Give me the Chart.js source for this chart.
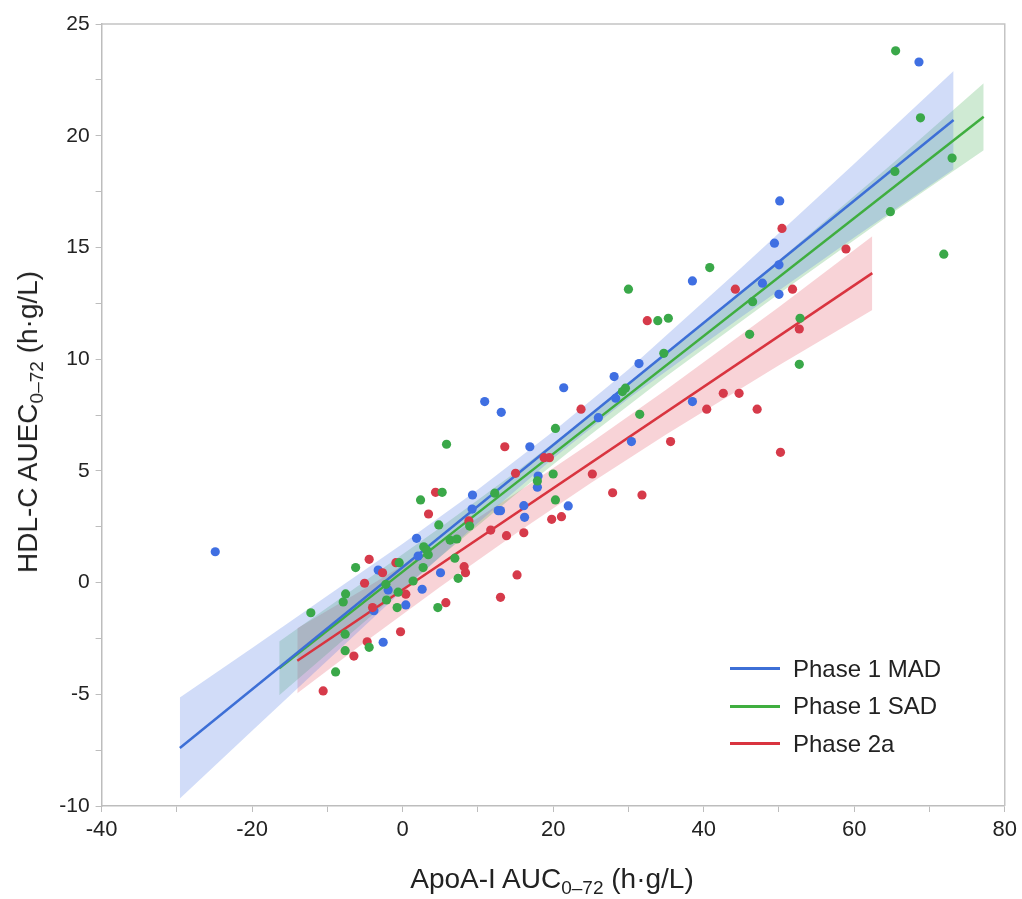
<!DOCTYPE html>
<html>
<head>
<meta charset="utf-8">
<script src="https://cdn.jsdelivr.net/npm/chart.js@4.4.1/dist/chart.umd.min.js"></script>
<style>
  body { margin: 0; background: #fff; font-family: "Liberation Sans", Arial, sans-serif; }
  #wrap { position: relative; width: 1022px; height: 899px; }
  .ttl { position: absolute; font-size: 28px; color: #222; white-space: nowrap; }
  .ttl sub { font-size: 19px; vertical-align: -6px; }
  #ytitle { left: 30px; top: 422px; transform: translate(-50%, -50%) rotate(-90deg); }
  #xtitle { left: 552px; top: 881px; transform: translate(-50%, -50%); }
  #legend { position: absolute; left: 730px; top: 650px; font-size: 24px; color: #222; }
  #legend div { height: 37.5px; display: flex; align-items: center; }
  #legend span.sw { display: inline-block; width: 50px; height: 3px; margin-right: 13px; }
</style>
</head>
<body>
<div id="wrap">
  <canvas id="scatterChart"></canvas>
  <div class="ttl" id="ytitle">HDL-C AUEC<sub>0–72</sub> (h·g/L)</div>
  <div class="ttl" id="xtitle">ApoA-I AUC<sub>0–72</sub> (h·g/L)</div>
  <div id="legend">
    <div><span class="sw" style="background:#3d6fd6"></span>Phase 1 MAD</div>
    <div><span class="sw" style="background:#3fae3f"></span>Phase 1 SAD</div>
    <div><span class="sw" style="background:#d9343f"></span>Phase 2a</div>
  </div>
</div>
<script>
// points (x = ApoA-I AUC, y = HDL-C AUEC)
const mad_x = [-24.9, -3.25, -3.82, -1.93, 0.42, 2.59, 2.06, 5.03, -2.59, 1.85, 9.28, 9.23, 12.7, 13.0, 16.1, 16.2, 16.9, 21.4, 10.9, 13.1, 26.0, 28.3, 18.0, 17.9, 22.0, 30.4, 28.1, 31.4, 38.5, 38.5, 47.8, 49.4, 50.0, 50.0, 50.1, 68.6];
const mad_y = [1.38, 0.56, -1.26, -0.33, -1.0, -0.3, 1.19, 0.44, -2.67, 1.98, 3.92, 3.29, 3.22, 3.22, 3.44, 2.92, 6.08, 8.72, 8.10, 7.62, 7.38, 8.25, 4.77, 4.27, 3.43, 6.31, 9.22, 9.8, 13.5, 8.1, 13.4, 15.19, 14.22, 12.9, 17.08, 23.3];

const sad_x = [-12.2, -6.25, -7.58, -7.9, -2.23, -2.14, -0.73, -0.6, -0.46, 1.39, 2.72, 2.8, 3.2, 3.4, 6.93, 4.67, 7.37, -4.45, -7.64, -7.64, -8.91, 5.83, 5.25, 2.38, 12.24, 8.9, 4.8, 6.3, 7.2, 20.3, 20.0, 17.9, 20.3, 29.2, 29.6, 30.0, 33.9, 35.3, 34.7, 31.5, 40.8, 46.5, 46.1, 52.8, 52.7, 65.5, 68.8, 65.4, 73.0, 64.8, 71.9];
const sad_y = [-1.35, 0.67, -0.51, -0.87, -0.08, -0.78, -1.12, -0.43, 0.89, 0.07, 0.67, 1.6, 1.45, 1.25, 1.09, -1.12, 0.19, -2.9, -2.31, -3.05, -4.0, 6.19, 4.04, 3.70, 4.0, 2.53, 2.58, 1.9, 1.95, 6.9, 4.86, 4.55, 3.70, 8.55, 8.7, 13.13, 11.72, 11.83, 10.26, 7.53, 14.1, 12.57, 11.11, 11.83, 9.77, 23.8, 20.8, 18.4, 19.0, 16.6, 14.7];

const p2a_x = [-4.45, -2.67, -5.06, -4.0, 0.42, -0.9, 5.74, -0.28, -4.71, -6.48, -10.56, 13.57, 15.0, 4.37, 3.44, 8.8, 11.7, 13.8, 16.1, 8.17, 8.35, 15.2, 13.0, 23.7, 18.8, 19.5, 25.2, 27.9, 19.8, 21.1, 31.8, 50.4, 51.8, 58.9, 44.2, 32.5, 52.7, 42.6, 44.7, 40.4, 47.1, 35.6, 50.2];
const p2a_y = [1.04, 0.44, -0.03, -1.12, -0.52, 0.89, -0.9, -2.2, -2.65, -3.29, -4.85, 6.08, 4.89, 4.04, 3.07, 2.76, 2.35, 2.1, 2.23, 0.71, 0.44, 0.34, -0.66, 7.76, 5.59, 5.59, 4.86, 4.02, 2.83, 2.95, 3.92, 15.85, 13.13, 14.93, 13.13, 11.72, 11.35, 8.47, 8.47, 7.76, 7.76, 6.31, 5.83];

// fitted lines (end points)
const mad_fit_x = [-29.6, 73.2];
const mad_fit_y = [-7.4, 20.7];
const sad_fit_x = [-16.4, 77.2];
const sad_fit_y = [-3.84, 20.85];
const p2a_fit_x = [-14.0, 62.4];
const p2a_fit_y = [-3.5, 13.85];

// confidence bands
const mad_band_x = [-29.6, -20, -10, 0, 10, 20, 30, 45, 60, 73.2];
const mad_band_hi = [-5.14, -2.93, -0.59, 1.74, 4.17, 6.76, 9.54, 14.09, 18.74, 22.9];
const mad_band_lo = [-9.66, -6.63, -3.49, -0.36, 2.67, 5.56, 8.24, 11.89, 15.44, 18.5];
const sad_band_x = [-16.4, -5, 5, 15, 25, 35, 50, 65, 77.2];
const sad_band_hi = [-2.64, 0.07, 2.46, 4.94, 7.53, 10.22, 14.43, 18.73, 22.35];
const sad_band_lo = [-5.04, -1.73, 1.16, 3.94, 6.63, 9.22, 12.93, 16.53, 19.35];
const p2a_band_x = [-14, -5, 5, 15, 25, 35, 50, 62.4];
const p2a_band_hi = [-2.05, -0.26, 1.81, 3.99, 6.26, 8.63, 12.33, 15.5];
const p2a_band_lo = [-4.95, -2.66, -0.19, 2.19, 4.46, 6.63, 9.73, 12.2];

function pts(xs, ys) {
    return xs.map((x, i) => ({ x: x, y: ys[i] }));
}

function band(xs, hi, lo, color) {
    // upper edge fills down to the next dataset (lower edge)
    return [
        { type: 'line', data: pts(xs, hi), borderWidth: 0, pointRadius: 0, fill: '+1', backgroundColor: color, order: 3 },
        { type: 'line', data: pts(xs, lo), borderWidth: 0, pointRadius: 0, fill: false, order: 3 }
    ];
}

function fit(xs, ys, color) {
    return { type: 'line', data: pts(xs, ys), borderColor: color, borderWidth: 2.5, pointRadius: 0, fill: false, order: 2 };
}

function dots(xs, ys, color) {
    return { type: 'scatter', data: pts(xs, ys), backgroundColor: color, borderWidth: 0, pointRadius: 4.6, order: 1 };
}

// light frame on top and right of the plot
const framePlugin = {
    id: 'frame',
    beforeDatasetsDraw(chart) {
        const a = chart.chartArea;
        const ctx = chart.ctx;
        ctx.save();
        ctx.strokeStyle = '#c4c4c4';
        ctx.lineWidth = 1.5;
        ctx.beginPath();
        ctx.moveTo(a.left, a.top);
        ctx.lineTo(a.right, a.top);
        ctx.lineTo(a.right, a.bottom);
        ctx.stroke();
        ctx.restore();
    }
};

const ctx = document.getElementById('scatterChart').getContext('2d');
const myChart = new Chart(ctx, {
    type: 'scatter',
    data: {
        datasets: [
            ...band(mad_band_x, mad_band_hi, mad_band_lo, 'rgba(90,130,230,0.28)'),
            ...band(sad_band_x, sad_band_hi, sad_band_lo, 'rgba(70,175,85,0.26)'),
            ...band(p2a_band_x, p2a_band_hi, p2a_band_lo, 'rgba(228,80,95,0.25)'),
            fit(mad_fit_x, mad_fit_y, '#3d6fd6'),
            fit(sad_fit_x, sad_fit_y, '#3fae3f'),
            fit(p2a_fit_x, p2a_fit_y, '#d9343f'),
            dots(sad_x, sad_y, '#3aa849'),
            dots(p2a_x, p2a_y, '#d63a4a'),
            dots(mad_x, mad_y, '#3f6fe2')
        ]
    },
    options: {
        responsive: true,
        maintainAspectRatio: false,
        animation: false,
        layout: { padding: { top: 24, right: 17, left: 0, bottom: 0 } },
        plugins: {
            legend: { display: false },
            tooltip: { enabled: false }
        },
        scales: {
            x: {
                type: 'linear',
                min: -40,
                max: 80,
                afterFit: (s) => { s.height = 93; },
                border: { color: '#bdbdbd', width: 1.5 },
                grid: { drawOnChartArea: false, drawTicks: true, tickLength: 6, color: '#bdbdbd' },
                ticks: {
                    stepSize: 10,
                    padding: 5,
                    color: '#222',
                    font: { family: 'Liberation Sans', size: 22 },
                    maxRotation: 0,
                    callback: (v) => (v % 20 === 0 ? v : '')
                }
            },
            y: {
                type: 'linear',
                min: -10,
                max: 25,
                afterFit: (s) => { s.width = 101.6; },
                border: { color: '#bdbdbd', width: 1.5 },
                grid: { drawOnChartArea: false, drawTicks: true, tickLength: 6, color: '#bdbdbd' },
                ticks: {
                    stepSize: 2.5,
                    padding: 6,
                    color: '#222',
                    font: { family: 'Liberation Sans', size: 21 },
                    callback: (v) => (v % 5 === 0 ? v : '')
                }
            }
        }
    },
    plugins: [framePlugin]
});
</script>
</body>
</html>
